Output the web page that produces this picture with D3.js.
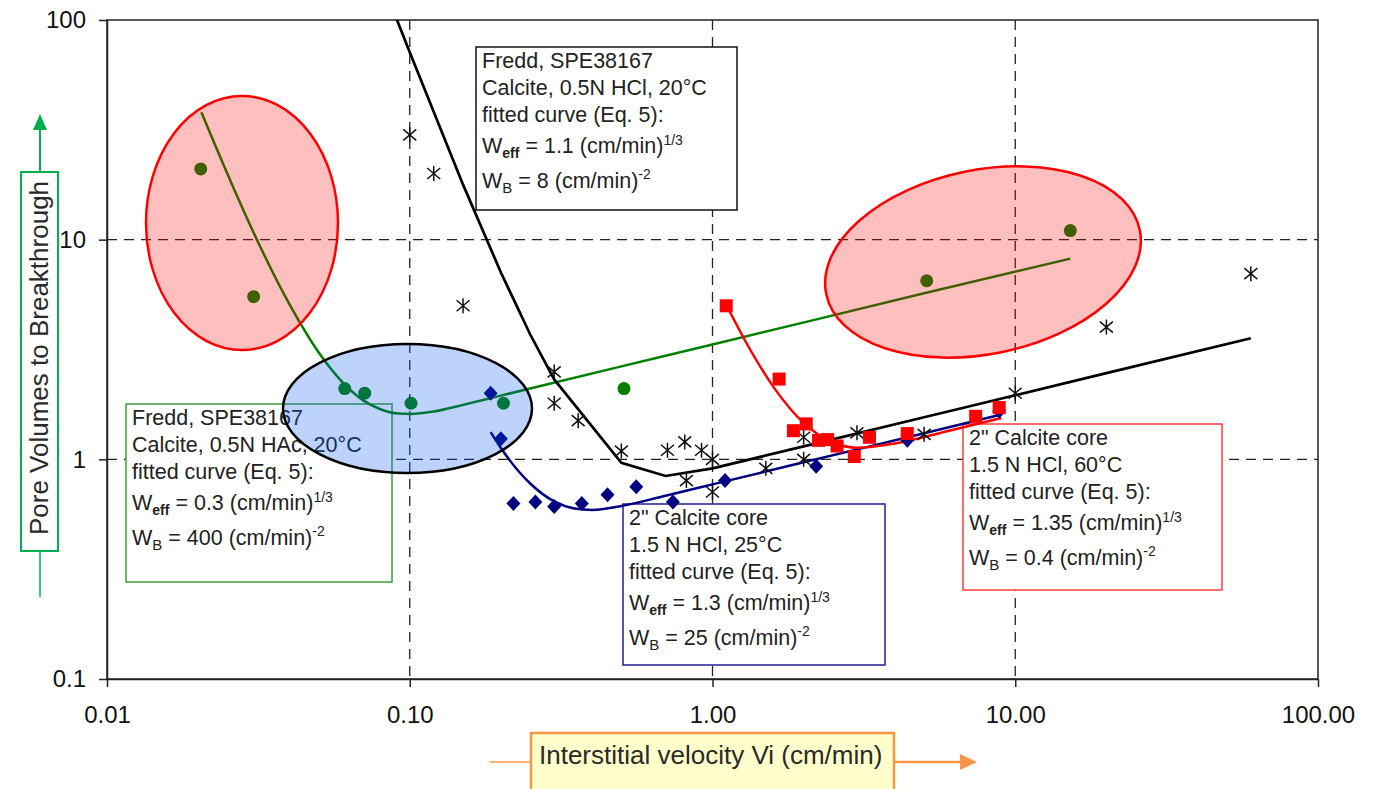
<!DOCTYPE html>
<html>
<head>
<meta charset="utf-8">
<script src="https://cdn.jsdelivr.net/npm/d3@7"></script>
<style>
  body { margin: 0; background: #fff; }
  svg { display: block; font-family: Arial, "Liberation Sans", Helvetica, sans-serif; }
</style>
</head>
<body>
<svg id="chart" width="1378" height="789"></svg>
<script>
// axis ticks
var xTicks = [0.01, 0.1, 1, 10, 100];
var yTicks = [0.1, 1, 10, 100];

// measured points, [Vi (cm/min), pore volumes to breakthrough]
var hacPoints = [[0.0204, 21], [0.0305, 5.5], [0.061, 2.1], [0.071, 2.0], [0.101, 1.8],
  [0.204, 1.8], [0.51, 2.1], [5.1, 6.5], [15.2, 11]];
var hclFreddPoints = [[0.1, 30], [0.12, 20], [0.15, 5], [0.3, 2.5], [0.3, 1.8], [0.36, 1.5],
  [0.5, 1.09], [0.71, 1.1], [0.81, 1.2], [0.92, 1.1], [1.0, 1.0], [0.82, 0.8], [1.0, 0.71],
  [1.5, 0.91], [2.0, 1.0], [2.0, 1.26], [3.0, 1.32], [5.0, 1.3], [10, 2.0], [20, 4.0], [60, 7.0]];
var core25Points = [[0.185, 2.0], [0.2, 1.24], [0.22, 0.63], [0.26, 0.64], [0.3, 0.61],
  [0.37, 0.63], [0.45, 0.69], [0.56, 0.75], [0.74, 0.64], [1.1, 0.8], [2.2, 0.93],
  [4.4, 1.22], [8.85, 1.66]];
var core60Points = [[1.11, 5.0], [1.66, 2.32], [1.85, 1.35], [2.04, 1.45], [2.24, 1.22],
  [2.4, 1.23], [2.58, 1.15], [2.94, 1.03], [3.3, 1.26], [4.4, 1.31], [7.4, 1.57], [8.85, 1.72]];

// fitted curves
var hacFit = [[0.0205, 38], [0.025, 19.9], [0.03, 11.3], [0.04, 5.1], [0.05, 3.07], [0.06, 2.24],
  [0.07, 1.86], [0.08, 1.69], [0.09, 1.62], [0.1, 1.61], [0.12, 1.65], [0.15, 1.77], [0.2, 1.95],
  [0.5, 2.65], [1, 3.33], [5, 5.7], [15.2, 8.2]];
var hclFreddFit = [[0.09, 103], [0.1, 71.4], [0.15, 17.8], [0.2, 7.09], [0.25, 3.7], [0.3, 2.31],
  [0.5, 0.965], [0.7, 0.84], [1, 0.909], [2, 1.145], [5, 1.555], [10, 1.958], [20, 2.467], [60, 3.56]];
var core25Fit = [[0.185, 1.33], [0.2, 1.126], [0.25, 0.776], [0.3, 0.643], [0.35, 0.597],
  [0.4, 0.588], [0.5, 0.613], [0.7, 0.683], [1, 0.769], [2, 0.969], [5, 1.315], [9, 1.6]];
var core60Fit = [[1.1, 5.19], [1.3, 3.35], [1.6, 2.11], [2, 1.465], [2.5, 1.193], [3, 1.129],
  [4, 1.18], [6, 1.346], [9, 1.541]];

// annotation texts
var boxHclLines = ["Fredd, SPE38167", "Calcite, 0.5N HCl, 20\u00B0C", "fitted curve (Eq. 5):"];
var boxHacLines = ["Fredd, SPE38167", "Calcite, 0.5N HAc, 20\u00B0C", "fitted curve (Eq. 5):"];
var box25Lines = ["2\" Calcite core", "1.5 N HCl, 25\u00B0C", "fitted curve (Eq. 5):"];
var box60Lines = ["2\" Calcite core", "1.5 N HCl, 60\u00B0C", "fitted curve (Eq. 5):"];
var weffValues = ["1.1", "0.3", "1.3", "1.35"];
var wbValues = ["8", "400", "25", "0.4"];

var svg = d3.select("#chart");
var plot = {left: 107, right: 1318, top: 20, bottom: 679};

var x = d3.scaleLog().domain([0.01, 100]).range([plot.left, plot.right]);
var y = d3.scaleLog().domain([0.1, 100]).range([plot.bottom, plot.top]);

svg.append("defs").append("clipPath").attr("id", "clip")
  .append("rect").attr("x", plot.left).attr("y", plot.top)
  .attr("width", plot.right - plot.left).attr("height", plot.bottom - plot.top);

// dashed grid
var grid = svg.append("g").attr("stroke", "#222").attr("stroke-width", 1.3).attr("stroke-dasharray", "10,7");
grid.selectAll("line.gx").data([0.1, 1, 10]).join("line")
  .attr("x1", function (d) { return x(d); }).attr("x2", function (d) { return x(d); })
  .attr("y1", plot.top).attr("y2", plot.bottom);
grid.selectAll("line.gy").data([1, 10]).join("line")
  .attr("y1", function (d) { return y(d); }).attr("y2", function (d) { return y(d); })
  .attr("x1", plot.left).attr("x2", plot.right);

// frame
svg.append("rect").attr("x", plot.left).attr("y", plot.top)
  .attr("width", plot.right - plot.left).attr("height", plot.bottom - plot.top)
  .attr("fill", "none").attr("stroke", "#222").attr("stroke-width", 1.5);

var yAxis = svg.append("g").attr("transform", "translate(" + plot.left + ",0)")
  .call(d3.axisLeft(y).tickValues(yTicks).tickSize(8).tickSizeOuter(0).tickPadding(13)
    .tickFormat(function (d) { return d < 1 ? "0.1" : String(d); }));
var xAxis = svg.append("g").attr("transform", "translate(0," + plot.bottom + ")")
  .call(d3.axisBottom(x).tickValues(xTicks).tickSize(8).tickSizeOuter(0).tickPadding(19)
    .tickFormat(d3.format(".2f")));
[xAxis, yAxis].forEach(function (a) {
  a.selectAll("path, line").attr("stroke", "#222").attr("stroke-width", 1.5);
  a.selectAll("text").attr("font-size", 24).attr("fill", "#111").attr("font-family", null);
});

// annotation boxes (under the data)
var offsets = [21, 48, 75, 106, 141];
function drawBox(bx, by, bw, bh, color, lines, weff, wb) {
  var g = svg.append("g").attr("transform", "translate(" + bx + "," + by + ")");
  g.append("rect").attr("width", bw).attr("height", bh)
    .attr("fill", "#fff").attr("stroke", color).attr("stroke-width", 1.5);
  var t = g.append("g").attr("font-size", 21.5).attr("fill", "#222");
  lines.forEach(function (s, i) {
    t.append("text").attr("x", 6).attr("y", offsets[i]).text(s);
  });
  var w1 = t.append("text").attr("x", 6).attr("y", offsets[3]);
  w1.append("tspan").text("W");
  w1.append("tspan").attr("font-size", 14).attr("font-weight", "bold").attr("dy", 5).text("eff");
  w1.append("tspan").attr("dy", -5).text(" = " + weff + " (cm/min)");
  w1.append("tspan").attr("font-size", 14).attr("dy", -8).text("1/3");
  var w2 = t.append("text").attr("x", 6).attr("y", offsets[4]);
  w2.append("tspan").text("W");
  w2.append("tspan").attr("font-size", 15).attr("dy", 5).text("B");
  w2.append("tspan").attr("dy", -5).text(" = " + wb + " (cm/min)");
  w2.append("tspan").attr("font-size", 14).attr("dy", -9).text("-2");
}
drawBox(476, 47, 261, 163, "#111", boxHclLines, weffValues[0], wbValues[0]);
drawBox(126, 404, 266, 178, "#3c9c3c", boxHacLines, weffValues[1], wbValues[1]);
drawBox(623, 504, 262, 161, "#20208f", box25Lines, weffValues[2], wbValues[2]);
drawBox(963, 424, 259, 166, "#ff3b3b", box60Lines, weffValues[3], wbValues[3]);

// fitted curves
var data = svg.append("g").attr("clip-path", "url(#clip)");
var line = d3.line().x(function (d) { return x(d[0]); }).y(function (d) { return y(d[1]); });
var smooth = d3.line().curve(d3.curveMonotoneX)
  .x(function (d) { return x(d[0]); }).y(function (d) { return y(d[1]); });

data.append("path").datum(hacFit).attr("d", smooth)
  .attr("fill", "none").attr("stroke", "#008000").attr("stroke-width", 2.5);
data.append("path").datum(hclFreddFit).attr("d", line)
  .attr("fill", "none").attr("stroke", "#000").attr("stroke-width", 2.7);
data.append("path").datum(core25Fit).attr("d", smooth)
  .attr("fill", "none").attr("stroke", "#000080").attr("stroke-width", 2.5);
data.append("path").datum(core60Fit).attr("d", smooth)
  .attr("fill", "none").attr("stroke", "#ff0000").attr("stroke-width", 2.5);

// markers
data.selectAll("path.star").data(hclFreddPoints).join("path").attr("class", "star")
  .attr("transform", function (d) { return "translate(" + x(d[0]) + "," + y(d[1]) + ")"; })
  .attr("d", "M0,-7.5L0,7.5M-6.5,-5.5L6.5,5.5M-6.5,5.5L6.5,-5.5")
  .attr("fill", "none").attr("stroke", "#111").attr("stroke-width", 1.5);
data.selectAll("circle.hac").data(hacPoints).join("circle").attr("class", "hac")
  .attr("cx", function (d) { return x(d[0]); }).attr("cy", function (d) { return y(d[1]); })
  .attr("r", 6.5).attr("fill", "#008000");
data.selectAll("path.dia").data(core25Points).join("path").attr("class", "dia")
  .attr("transform", function (d) { return "translate(" + x(d[0]) + "," + y(d[1]) + ")"; })
  .attr("d", "M0,-7.5L7,0L0,7.5L-7,0Z").attr("fill", "#000080");
data.selectAll("rect.sq").data(core60Points).join("rect").attr("class", "sq")
  .attr("x", function (d) { return x(d[0]) - 6.5; }).attr("y", function (d) { return y(d[1]) - 6.5; })
  .attr("width", 13).attr("height", 13).attr("fill", "#ff0000");

// highlight ellipses (translucent, above the data)
svg.append("ellipse").attr("cx", 242).attr("cy", 223).attr("rx", 96).attr("ry", 127)
  .attr("fill", "#ff0000").attr("fill-opacity", 0.25).attr("stroke", "#ff0000").attr("stroke-width", 2.5);
svg.append("ellipse").attr("cx", 983).attr("cy", 262).attr("rx", 160).attr("ry", 92)
  .attr("transform", "rotate(-11.5,983,262)")
  .attr("fill", "#ff0000").attr("fill-opacity", 0.25).attr("stroke", "#ff0000").attr("stroke-width", 2.5);
svg.append("ellipse").attr("cx", 407.5).attr("cy", 408.5).attr("rx", 124.5).attr("ry", 64.5)
  .attr("fill", "#0055ee").attr("fill-opacity", 0.26).attr("stroke", "#000").attr("stroke-width", 2.5);

// y axis title
var green = "#00b050";
svg.append("line").attr("x1", 40).attr("x2", 40).attr("y1", 172).attr("y2", 128)
  .attr("stroke", green).attr("stroke-width", 2);
svg.append("path").attr("d", "M40,114L47,130L33,130Z").attr("fill", green);
svg.append("line").attr("x1", 40).attr("x2", 40).attr("y1", 551).attr("y2", 597)
  .attr("stroke", green).attr("stroke-width", 1.5);
svg.append("rect").attr("x", 21).attr("y", 172).attr("width", 37).attr("height", 379)
  .attr("fill", "#fff").attr("stroke", green).attr("stroke-width", 2);
svg.append("text").attr("transform", "translate(48,358) rotate(-90)")
  .attr("text-anchor", "middle").attr("font-size", 26).attr("fill", "#2a2a2a")
  .text("Pore Volumes to Breakthrough");

// x axis title
var orange = "#f79646";
svg.append("line").attr("x1", 490).attr("x2", 531).attr("y1", 762).attr("y2", 762)
  .attr("stroke", orange).attr("stroke-width", 1.5);
svg.append("line").attr("x1", 894).attr("x2", 962).attr("y1", 762).attr("y2", 762)
  .attr("stroke", orange).attr("stroke-width", 2.5);
svg.append("path").attr("d", "M977,762L960,754L960,770Z").attr("fill", orange);
svg.append("rect").attr("x", 531).attr("y", 733).attr("width", 363).attr("height", 70)
  .attr("fill", "#ffffcc").attr("stroke", orange).attr("stroke-width", 2.5);
svg.append("text").attr("x", 539).attr("y", 764).attr("font-size", 26).attr("fill", "#2a2a2a")
  .text("Interstitial velocity Vi (cm/min)");
</script>
</body>
</html>
